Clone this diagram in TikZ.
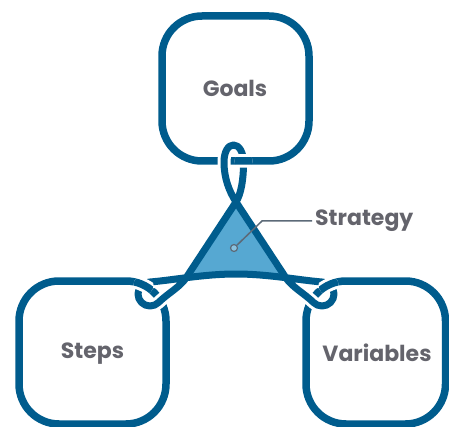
\documentclass[tikz,border=0pt]{standalone}
\usepackage{fontspec}
\setmainfont{Poppins}
\definecolor{rope}{RGB}{0,92,141}
\definecolor{skyfill}{RGB}{86,168,210}
\definecolor{labelgray}{RGB}{100,100,108}
\definecolor{pointer}{RGB}{92,106,120}

% closed course of the knotted cord: left side, top loop, right side,
% lower-right loop, arched base, lower-left loop
\newcommand{\cordcourse}{
  (158.5,302.5) .. controls (167,294) and (180,287) .. (186,278)
  -- (236,202)
  .. controls (241,194) and (243.5,180) .. (243.5,163)
  .. controls (243.5,152) and (239,145) .. (233.5,145)
  .. controls (228,145) and (224,152) .. (224,162)
  .. controls (224,178) and (229,191) .. (236,202)
  -- (286,278)
  .. controls (292,287) and (305,294) .. (313.5,302.5)
  .. controls (315.8,304.8) and (318.9,306) .. (322,306)
  .. controls (328.6,306) and (334,300.6) .. (334,294)
  .. controls (334,287.4) and (328.6,282) .. (322,282)
  .. controls (298,280) and (268,274) .. (236,274)
  .. controls (204,274) and (174,280) .. (150,282)
  .. controls (143.4,282) and (138,287.4) .. (138,294)
  .. controls (138,300.6) and (143.4,306) .. (150,306)
  .. controls (153.1,306) and (156.2,304.8) .. (158.5,302.5) -- cycle
}

\begin{document}
\begin{tikzpicture}[x=1pt,y=-1pt,
  boxline/.style={draw=rope, line width=7.5pt, rounded corners=40pt},
  boxcase/.style={draw=white, line width=13.5pt, rounded corners=40pt},
  cordcase/.style={draw=white, line width=13pt, line join=round},
  cord/.style={draw=rope, line width=7pt, line join=round},
  label/.style={font=\bfseries\fontsize{22}{26}\selectfont, text=labelgray, inner sep=0pt},
  pointerline/.style={draw=pointer, line width=1.5pt},
]
\clip (0,0) rectangle (449,427);

% the three boxes
\draw[boxline] (162,16) rectangle (309,161);
\draw[boxline] (19,281) rectangle (166,424);
\draw[boxline] (306,281) rectangle (445.5,424);

% cord: white casing, triangle fill, then the cord itself
\draw[cordcase] \cordcourse;
\fill[skyfill] (236,202) -- (185,279) .. controls (200,275.5) and (218,274) .. (236,274)
  .. controls (254,274) and (272,275.5) .. (287,279) -- cycle;
\draw[cord] \cordcourse;

% box edges that pass over the cord
\begin{scope}
  \clip (243.5,161) circle[radius=9pt];
  \draw[boxcase] (162,16) rectangle (309,161);
  \draw[boxline] (162,16) rectangle (309,161);
\end{scope}
\begin{scope}
  \clip (143.5,285) circle[radius=10pt];
  \draw[boxcase] (19,281) rectangle (166,424);
  \draw[boxline] (19,281) rectangle (166,424);
\end{scope}
\begin{scope}
  \clip (328.5,285) circle[radius=10pt];
  \draw[boxcase] (306,281) rectangle (445.5,424);
  \draw[boxline] (306,281) rectangle (445.5,424);
\end{scope}

% labels
\node[label] (goals) at (235,88) {Goals};
\node[label] (steps) at (92.5,354) {Steps};
\node[label] (variables) at (377,353) {Variables};
\node[label, anchor=west] (strategy) at (315,221) {Strategy};

% pointer from the triangle to its label
\node[circle, draw=pointer, fill=skyfill!70, line width=1.2pt, minimum size=7pt, inner sep=0pt] (mark) at (234,248) {};
\coordinate (elbow) at (262,221);
\draw[pointerline] (mark) -- (elbow) -- ([xshift=-3pt]strategy.west);
\end{tikzpicture}
\end{document}
